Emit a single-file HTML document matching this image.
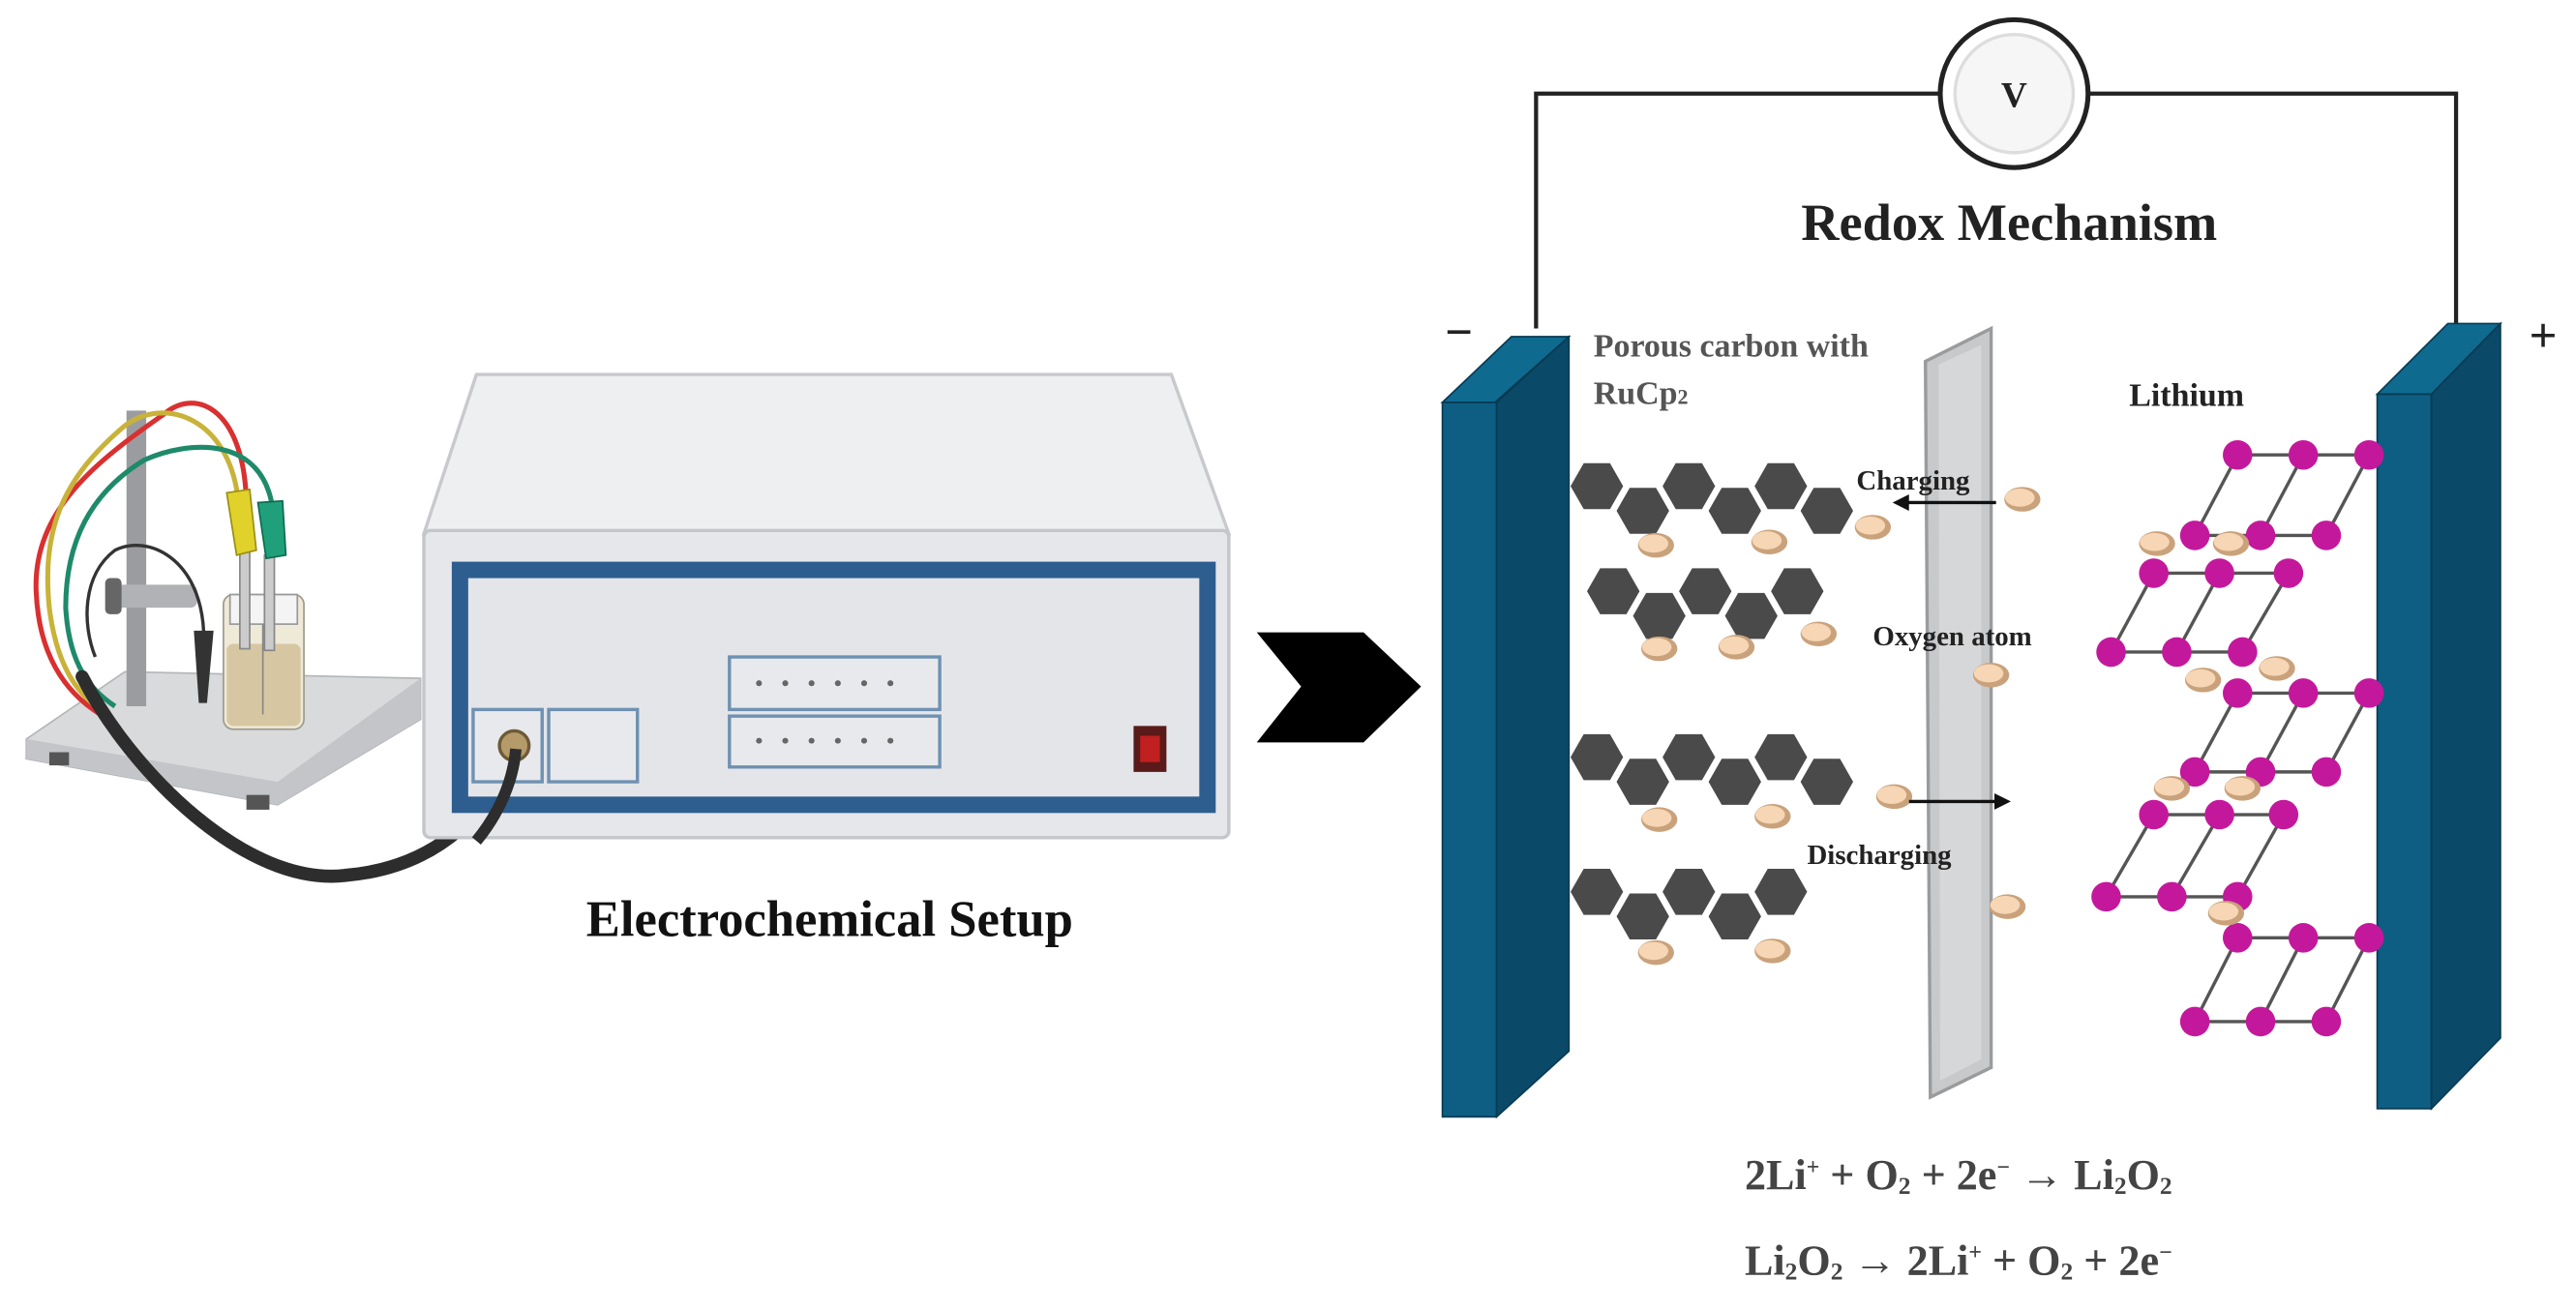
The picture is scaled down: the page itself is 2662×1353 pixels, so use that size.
<!DOCTYPE html>
<html><head><meta charset="utf-8"><style>
html,body{margin:0;padding:0;background:#fff;}
svg{display:block;}
text{font-family:"Liberation Serif",serif;font-weight:bold;}
</style></head><body>
<svg width="2662" height="1353" viewBox="0 0 1568 797" preserveAspectRatio="none" xmlns="http://www.w3.org/2000/svg">
<defs>
<polygon id="hx" points="-16,0 -8,-14 8,-14 16,0 8,14 -8,14" fill="#4a4a4a"/>
<g id="ox"><ellipse cx="0" cy="0" rx="11" ry="7.5" fill="#c9a27c"/><ellipse cx="-1.5" cy="-1" rx="9" ry="5.5" fill="#f6d6b4"/></g>
<circle id="li" r="9" fill="#c4189c"/>
</defs>
<rect width="1568" height="797" fill="#fff"/>

<polygon points="16,450 76,409 256,413 256,438 169,490 16,462" fill="#d9dadc" stroke="#b5b6b8"/>
<polygon points="16,450 169,476 256,413 256,438 169,490 16,462" fill="#c4c5c8"/>
<rect x="30" y="458" width="12" height="8" fill="#555"/>
<rect x="150" y="484" width="14" height="9" fill="#555"/>
<rect x="77" y="250" width="12" height="180" fill="#9a9ca0"/>
<rect x="66" y="356" width="54" height="14" rx="4" fill="#b0b2b5"/>
<rect x="64" y="352" width="10" height="22" rx="3" fill="#666"/>
<rect x="136" y="362" width="49" height="82" rx="6" fill="#efe9d8" stroke="#9e9a8c"/>
<rect x="138" y="392" width="45" height="50" rx="4" fill="#d6c7a2"/>
<rect x="140" y="362" width="41" height="18" fill="#f4f4f4" stroke="#999"/>
<rect x="146" y="335" width="6" height="60" fill="#ccc" stroke="#888"/>
<rect x="161" y="338" width="6" height="58" fill="#ccc" stroke="#888"/>
<line x1="160" y1="380" x2="160" y2="435" stroke="#888"/>
<path d="M150,310 C150,250 120,235 100,252 C60,280 20,310 22,360 C24,410 50,430 70,440" fill="none" stroke="#d93030" stroke-width="3"/>
<path d="M145,305 C140,255 100,240 75,260 C40,290 25,320 30,370 C35,410 50,425 65,435" fill="none" stroke="#c9b23a" stroke-width="3"/>
<path d="M166,310 C160,265 115,268 88,280 C55,300 40,330 40,370 C42,405 55,420 70,430" fill="none" stroke="#1e8a6a" stroke-width="3"/>
<path d="M124,385 C122,340 90,325 70,335 C50,350 50,380 58,400" fill="none" stroke="#333" stroke-width="2"/>
<path d="M138,300 L152,298 L156,335 L144,338 Z" fill="#e0d22a" stroke="#9a8e14"/>
<path d="M157,306 L172,305 L174,338 L162,340 Z" fill="#1fa07a" stroke="#0e6b50"/>
<path d="M118,384 L130,384 L126,428 L121,428 Z" fill="#333"/>
<path d="M50,412 C80,470 150,540 210,533 C270,528 300,490 314,456" fill="none" stroke="#2d2d2d" stroke-width="8" stroke-linecap="round"/>

<polygon points="258,325 290,228 713,228 748,325" fill="#eeeff1" stroke="#c8c9cc" stroke-width="2"/>
<rect x="258" y="323" width="490" height="187" rx="4" fill="#e6e7eb" stroke="#c5c6ca" stroke-width="2"/>
<rect x="275" y="342" width="465" height="153" fill="#2d5e8f"/>
<rect x="285" y="352" width="445" height="133" fill="#e4e5e9"/>
<rect x="444" y="400" width="128" height="32" fill="#e8e9ec" stroke="#6f91b2" stroke-width="2"/>
<rect x="444" y="436" width="128" height="31" fill="#e8e9ec" stroke="#6f91b2" stroke-width="2"/>
<g fill="#666">
<circle cx="462" cy="416" r="1.8"/><circle cx="478" cy="416" r="1.8"/><circle cx="494" cy="416" r="1.8"/><circle cx="510" cy="416" r="1.8"/><circle cx="526" cy="416" r="1.8"/><circle cx="542" cy="416" r="1.8"/>
<circle cx="462" cy="451" r="1.8"/><circle cx="478" cy="451" r="1.8"/><circle cx="494" cy="451" r="1.8"/><circle cx="510" cy="451" r="1.8"/><circle cx="526" cy="451" r="1.8"/><circle cx="542" cy="451" r="1.8"/>
</g>
<rect x="288" y="432" width="42" height="44" fill="#e8e9ec" stroke="#6f91b2" stroke-width="2"/>
<rect x="334" y="432" width="54" height="44" fill="#e8e9ec" stroke="#6f91b2" stroke-width="2"/>
<circle cx="313" cy="454" r="9" fill="#b59a6a" stroke="#6d5a38" stroke-width="2"/>
<rect x="690" y="442" width="20" height="28" fill="#5a1a1a"/>
<rect x="694" y="448" width="12" height="16" fill="#c02020"/>
<path d="M314,456 C312,480 300,500 290,512" fill="none" stroke="#2d2d2d" stroke-width="7"/>
<text x="505" y="570" font-size="31" text-anchor="middle" fill="#111">Electrochemical Setup</text>

<polygon points="765,385 830,385 865,418 830,452 765,452 792,418" fill="#000"/>

<polyline points="935,200 935,57 1495,57 1495,200" fill="none" stroke="#222" stroke-width="2.5"/>
<circle cx="1226" cy="57" r="45" fill="#fff" stroke="#222" stroke-width="3"/>
<circle cx="1226" cy="57" r="36" fill="#f6f6f6" stroke="#ddd" stroke-width="2"/>
<text x="1226" y="65" font-size="22" text-anchor="middle" fill="#222">V</text>
<text x="1223" y="146" font-size="32" text-anchor="middle" fill="#222">Redox Mechanism</text>
<text x="888" y="212" font-size="30" text-anchor="middle" fill="#222">−</text>
<text x="1548" y="214" font-size="30" text-anchor="middle" fill="#222">+</text>

<polygon points="878,245 920,205 955,205 910,245" fill="#0f6a8f" stroke="#073a52"/>
<rect x="878" y="245" width="33" height="435" fill="#0d5e82" stroke="#073a52"/>
<polygon points="911,245 955,205 955,640 911,680" fill="#0a4a68" stroke="#073a52"/>
<polygon points="1447,240 1490,197 1522,197 1480,240" fill="#0f6a8f" stroke="#073a52"/>
<rect x="1447" y="240" width="33" height="435" fill="#0d5e82" stroke="#073a52"/>
<polygon points="1480,240 1522,197 1522,632 1480,675" fill="#0a4a68" stroke="#073a52"/>

<polygon points="1172,220 1212,200 1212,650 1175,668" fill="#c8c9cb" stroke="#9a9b9d" stroke-width="2"/>
<polygon points="1180,222 1206,210 1206,645 1181,658" fill="#d6d7d9"/>

<text x="970" y="217" font-size="20" fill="#555">Porous carbon with</text>
<text x="970" y="246" font-size="20" fill="#555">RuCp<tspan font-size="13">2</tspan></text>
<text x="1296" y="247" font-size="20" fill="#222">Lithium</text>

<g>
<use href="#hx" x="972" y="296"/><use href="#hx" x="1000" y="311"/><use href="#hx" x="1028" y="296"/><use href="#hx" x="1056" y="311"/><use href="#hx" x="1084" y="296"/><use href="#hx" x="1112" y="311"/>
<use href="#hx" x="982" y="360"/><use href="#hx" x="1010" y="375"/><use href="#hx" x="1038" y="360"/><use href="#hx" x="1066" y="375"/><use href="#hx" x="1094" y="360"/>
<use href="#hx" x="972" y="461"/><use href="#hx" x="1000" y="476"/><use href="#hx" x="1028" y="461"/><use href="#hx" x="1056" y="476"/><use href="#hx" x="1084" y="461"/><use href="#hx" x="1112" y="476"/>
<use href="#hx" x="972" y="543"/><use href="#hx" x="1000" y="558"/><use href="#hx" x="1028" y="543"/><use href="#hx" x="1056" y="558"/><use href="#hx" x="1084" y="543"/>
</g>
<use href="#ox" x="1008" y="332"/><use href="#ox" x="1077" y="330"/><use href="#ox" x="1140" y="321"/>
<use href="#ox" x="1010" y="395"/><use href="#ox" x="1057" y="394"/><use href="#ox" x="1107" y="386"/>
<use href="#ox" x="1010" y="499"/><use href="#ox" x="1079" y="497"/><use href="#ox" x="1153" y="485"/>
<use href="#ox" x="1008" y="580"/><use href="#ox" x="1079" y="579"/>
<use href="#ox" x="1231" y="304"/><use href="#ox" x="1212" y="411"/><use href="#ox" x="1222" y="552"/>

<line x1="1215" y1="306" x2="1160" y2="306" stroke="#111" stroke-width="2"/>
<polygon points="1152,306 1162,301 1162,311" fill="#111"/>
<line x1="1162" y1="488" x2="1215" y2="488" stroke="#111" stroke-width="2"/>
<polygon points="1224,488 1214,483 1214,493" fill="#111"/>
<text x="1130" y="298" font-size="17" fill="#222">Charging</text>
<text x="1140" y="393" font-size="17" fill="#222">Oxygen atom</text>
<text x="1100" y="526" font-size="17" fill="#222">Discharging</text>

<g stroke="#555" stroke-width="2" fill="none">
<path d="M1362,277 H1442 M1336,326 H1416 M1362,277 L1336,326 M1402,277 L1376,326 M1442,277 L1416,326"/>
<path d="M1311,349 H1393 M1285,397 H1365 M1311,349 L1285,397 M1351,349 L1325,397 M1393,349 L1365,397"/>
<path d="M1362,422 H1442 M1336,470 H1416 M1362,422 L1336,470 M1402,422 L1376,470 M1442,422 L1416,470"/>
<path d="M1311,496 H1390 M1282,546 H1362 M1311,496 L1282,546 M1351,496 L1322,546 M1390,496 L1362,546"/>
<path d="M1362,571 H1442 M1336,622 H1416 M1362,571 L1336,622 M1402,571 L1376,622 M1442,571 L1416,622"/>
</g>
<g>
<use href="#li" x="1362" y="277"/><use href="#li" x="1402" y="277"/><use href="#li" x="1442" y="277"/>
<use href="#li" x="1336" y="326"/><use href="#li" x="1376" y="326"/><use href="#li" x="1416" y="326"/>
<use href="#li" x="1311" y="349"/><use href="#li" x="1351" y="349"/><use href="#li" x="1393" y="349"/>
<use href="#li" x="1285" y="397"/><use href="#li" x="1325" y="397"/><use href="#li" x="1365" y="397"/>
<use href="#li" x="1362" y="422"/><use href="#li" x="1402" y="422"/><use href="#li" x="1442" y="422"/>
<use href="#li" x="1336" y="470"/><use href="#li" x="1376" y="470"/><use href="#li" x="1416" y="470"/>
<use href="#li" x="1311" y="496"/><use href="#li" x="1351" y="496"/><use href="#li" x="1390" y="496"/>
<use href="#li" x="1282" y="546"/><use href="#li" x="1322" y="546"/><use href="#li" x="1362" y="546"/>
<use href="#li" x="1362" y="571"/><use href="#li" x="1402" y="571"/><use href="#li" x="1442" y="571"/>
<use href="#li" x="1336" y="622"/><use href="#li" x="1376" y="622"/><use href="#li" x="1416" y="622"/>
</g>
<use href="#ox" x="1313" y="331"/><use href="#ox" x="1358" y="331"/><use href="#ox" x="1341" y="414"/><use href="#ox" x="1386" y="407"/>
<use href="#ox" x="1322" y="480"/><use href="#ox" x="1365" y="480"/><use href="#ox" x="1355" y="556"/>

<text x="1062" y="724" font-size="26" fill="#444">2Li<tspan font-size="14" dy="-9">+</tspan><tspan dy="9"> + O</tspan><tspan font-size="15" dy="3">2</tspan><tspan dy="-3"> + 2e</tspan><tspan font-size="14" dy="-9">−</tspan><tspan dy="9"> → Li</tspan><tspan font-size="15" dy="3">2</tspan><tspan dy="-3">O</tspan><tspan font-size="15" dy="3">2</tspan></text>
<text x="1062" y="776" font-size="26" fill="#444">Li<tspan font-size="15" dy="3">2</tspan><tspan dy="-3">O</tspan><tspan font-size="15" dy="3">2</tspan><tspan dy="-3"> → 2Li</tspan><tspan font-size="14" dy="-9">+</tspan><tspan dy="9"> + O</tspan><tspan font-size="15" dy="3">2</tspan><tspan dy="-3"> + 2e</tspan><tspan font-size="14" dy="-9">−</tspan></text>
</svg>
</body></html>
